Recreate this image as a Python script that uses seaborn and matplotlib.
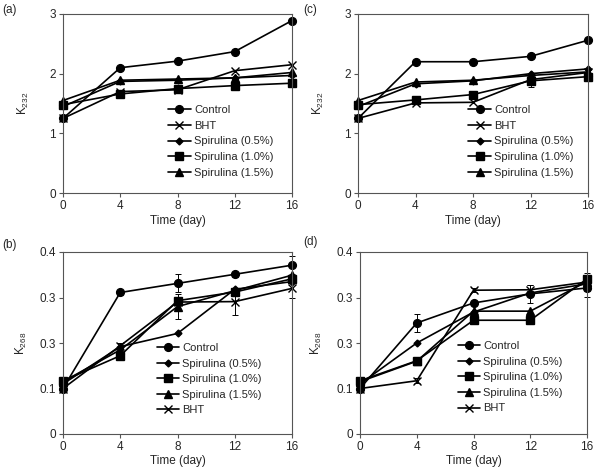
import numpy as np
import pandas as pd
import seaborn as sns
import matplotlib
matplotlib.use("Agg")
import matplotlib.pyplot as plt

sns.set_style("ticks")
plt.rcParams['font.family'] = ['Liberation Sans', 'DejaVu Sans']
plt.rcParams['mathtext.default'] = 'regular'
plt.rcParams['font.size'] = 8.5

days = [0, 4, 8, 12, 16]

# (a) K232
a_control = [1.25, 2.10, 2.21, 2.37, 2.89]
a_bht = [1.25, 1.70, 1.73, 2.05, 2.15]
a_s05 = [1.45, 1.87, 1.89, 1.93, 1.97]
a_s10 = [1.48, 1.66, 1.75, 1.80, 1.84]
a_s15 = [1.55, 1.89, 1.91, 1.93, 2.02]

# (c) K232
c_control = [1.25, 2.20, 2.20, 2.29, 2.56]
c_bht = [1.25, 1.51, 1.52, 1.90, 2.02]
c_s05 = [1.45, 1.83, 1.88, 2.00, 2.08]
c_s10 = [1.48, 1.56, 1.65, 1.88, 1.95]
c_s15 = [1.55, 1.86, 1.89, 1.97, 2.03]
c_s10_err = [0, 0, 0, 0.1, 0]

# (b) K268
b_control = [0.100, 0.311, 0.331, 0.351, 0.371]
b_s05 = [0.110, 0.192, 0.221, 0.318, 0.335]
b_s10 = [0.117, 0.172, 0.293, 0.312, 0.341]
b_s15 = [0.115, 0.185, 0.280, 0.315, 0.349]
b_bht = [0.100, 0.194, 0.290, 0.291, 0.320]
b_control_err = [0, 0.005, 0.02, 0.005, 0.02]
b_s15_err = [0, 0, 0.028, 0, 0]
b_bht_err = [0, 0.005, 0, 0.03, 0.02]

# (d) K268
d_control = [0.100, 0.244, 0.288, 0.308, 0.321]
d_s05 = [0.110, 0.200, 0.268, 0.310, 0.330]
d_s10 = [0.117, 0.161, 0.250, 0.250, 0.341]
d_s15 = [0.115, 0.160, 0.270, 0.270, 0.335]
d_bht = [0.100, 0.117, 0.316, 0.317, 0.334]
d_control_err = [0, 0.02, 0.005, 0.02, 0.02]
d_bht_err = [0, 0.005, 0.005, 0.01, 0.02]

k232_ticks = [0, 1, 2, 3]
k268_ticks = [0, 0.1, 0.2, 0.3, 0.4]
k268_labels = ['0', '0.1', '0.3', '0.3', '0.4']

markers = {'Control': 'o', 'BHT': 'x', 'Spirulina (0.5%)': 'D',
           'Spirulina (1.0%)': 's', 'Spirulina (1.5%)': '^'}
msize = {'Control': 5.6, 'BHT': 6, 'Spirulina (0.5%)': 3.5,
         'Spirulina (1.0%)': 5.3, 'Spirulina (1.5%)': 5.5}


def panel(ax, series, order, ylim, yticks, ylab, leg_xy, errs, ylab_x, xlab_y,
          ylabels=None):
    for name in order:
        sns.lineplot(x=days, y=series[name], marker=markers[name],
                     markersize=msize[name], color='black', linewidth=1.2,
                     markeredgecolor='black', markeredgewidth=1.0,
                     label=name, ax=ax, clip_on=False)
    for (name, e) in errs:
        ax.errorbar(days, series[name], yerr=e, fmt='none', ecolor='black',
                    elinewidth=0.7, capsize=2, capthick=0.7, clip_on=False)
    ax.set_xlim(0, 16)
    ax.set_ylim(*ylim)
    ax.set_xticks(days)
    ax.set_yticks(yticks)
    if ylabels is not None:
        ax.set_yticklabels(ylabels)
    ax.set_xlabel('Time (day)', fontsize=8.5)
    ax.set_ylabel(ylab, fontsize=8.5)
    ax.yaxis.set_label_coords(ylab_x, 0.5)
    ax.xaxis.set_label_coords(0.5, xlab_y)
    for s in ax.spines.values():
        s.set_color('#555555')
        s.set_linewidth(0.8)
    ax.tick_params(direction='out', length=3, width=0.8, color='#555555',
                   labelsize=8.5, pad=2)
    ax.legend(loc='upper left', bbox_to_anchor=leg_xy,
              frameon=False, fontsize=8, borderpad=0, labelspacing=0.5,
              handlelength=2.0, handletextpad=0.3, borderaxespad=0)
    return ax


fig = plt.figure(figsize=(5.95, 4.67), dpi=100)
W, H = 595, 467
ax_a = fig.add_axes([63 / W, (H - 193) / H, 229 / W, 179 / H])
ax_c = fig.add_axes([358 / W, (H - 193) / H, 230 / W, 179 / H])
ax_b = fig.add_axes([63 / W, (H - 434) / H, 229 / W, 182 / H])
ax_d = fig.add_axes([360 / W, (H - 434) / H, 227 / W, 182 / H])

top_order = ['Control', 'BHT', 'Spirulina (0.5%)', 'Spirulina (1.0%)', 'Spirulina (1.5%)']
bot_order = ['Control', 'Spirulina (0.5%)', 'Spirulina (1.0%)', 'Spirulina (1.5%)', 'BHT']

panel(ax_a, {'Control': a_control, 'BHT': a_bht, 'Spirulina (0.5%)': a_s05,
             'Spirulina (1.0%)': a_s10, 'Spirulina (1.5%)': a_s15},
      top_order, (0, 3), k232_ticks, 'K$_{232}$', (0.46, 0.49), [],
      -0.14, -0.125)
panel(ax_c, {'Control': c_control, 'BHT': c_bht, 'Spirulina (0.5%)': c_s05,
             'Spirulina (1.0%)': c_s10, 'Spirulina (1.5%)': c_s15},
      top_order, (0, 3), k232_ticks, 'K$_{232}$', (0.48, 0.49),
      [('Spirulina (1.0%)', c_s10_err)], -0.14, -0.125)
panel(ax_b, {'Control': b_control, 'BHT': b_bht, 'Spirulina (0.5%)': b_s05,
             'Spirulina (1.0%)': b_s10, 'Spirulina (1.5%)': b_s15},
      bot_order, (0, 0.4), k268_ticks, 'K$_{268}$', (0.41, 0.5),
      [('Control', b_control_err), ('Spirulina (1.5%)', b_s15_err), ('BHT', b_bht_err)],
      -0.15, -0.115, k268_labels)
panel(ax_d, {'Control': d_control, 'BHT': d_bht, 'Spirulina (0.5%)': d_s05,
             'Spirulina (1.0%)': d_s10, 'Spirulina (1.5%)': d_s15},
      bot_order, (0, 0.4), k268_ticks, 'K$_{268}$', (0.43, 0.51),
      [('Control', d_control_err), ('BHT', d_bht_err)],
      -0.16, -0.115, k268_labels)

fig.text(2 / W, 1 - 4 / H, '(a)', va='top', ha='left', fontsize=8.5)
fig.text(303 / W, 1 - 4 / H, '(c)', va='top', ha='left', fontsize=8.5)
fig.text(2 / W, 1 - 239 / H, '(b)', va='top', ha='left', fontsize=8.5)
fig.text(303 / W, 1 - 236 / H, '(d)', va='top', ha='left', fontsize=8.5)

fig.savefig('out.png', dpi=100)
